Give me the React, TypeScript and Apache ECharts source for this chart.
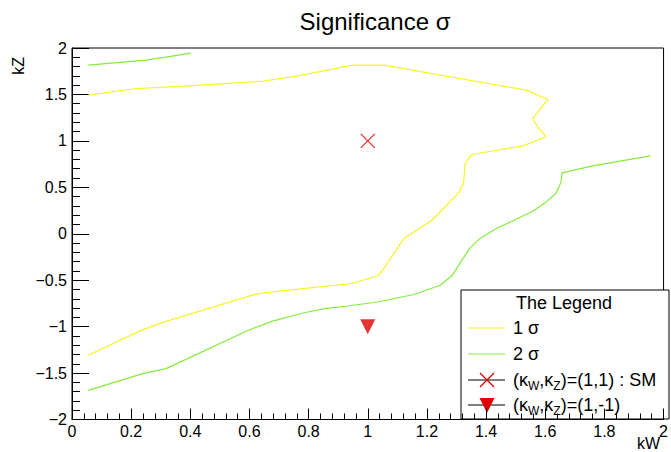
import React, { useEffect, useRef } from "react";
import * as echarts from "echarts";

const TITLE = "Significance σ";
const X_NAME = "kW";
const Y_NAME = "kZ";

// 1 sigma contour (kW, kZ)
const sigma1: [number, number][] = [
  [0.055, -1.309], [0.234, -1.04], [0.318, -0.943], [0.619, -0.652], [0.653, -0.634],
  [0.943, -0.537], [1.033, -0.455], [1.05, -0.393], [1.122, -0.052], [1.217, 0.145],
  [1.31, 0.45], [1.324, 0.547], [1.329, 0.756], [1.351, 0.853], [1.525, 0.946],
  [1.603, 1.045], [1.575, 1.144], [1.558, 1.241], [1.609, 1.446], [1.536, 1.546],
  [1.055, 1.816], [0.949, 1.816], [0.76, 1.698], [0.648, 1.643], [0.379, 1.589],
  [0.211, 1.561], [0.055, 1.492],
];

// 2 sigma contour, main branch
const sigma2: [number, number][] = [
  [0.055, -1.686], [0.239, -1.506], [0.318, -1.452], [0.591, -1.047], [0.675, -0.943],
  [0.781, -0.853], [0.854, -0.806], [0.932, -0.778], [1.033, -0.735], [1.156, -0.654],
  [1.245, -0.555], [1.284, -0.453], [1.346, -0.149], [1.379, -0.052], [1.435, 0.056],
  [1.558, 0.242], [1.603, 0.343], [1.636, 0.433], [1.653, 0.552], [1.657, 0.655],
  [1.76, 0.731], [1.955, 0.838],
];

// 2 sigma contour, top-left branch
const sigma2Top: [number, number][] = [
  [0.055, 1.816], [0.25, 1.87], [0.312, 1.899], [0.402, 1.945],
];

const smPoint: [number, number][] = [[1, 1]];
const flipPoint: [number, number][] = [[1, -1]];

const LEGEND_TITLE = "The Legend";
const LEGEND_1 = "1 σ";
const LEGEND_2 = "2 σ";

const YELLOW = "#f6f626";
const GREEN = "#84ec3e";
const RED = "#e00000";

const fmt = (v: number) => String(+v.toFixed(1)).replace("-", "−");

export default function App() {
  const ref = useRef<HTMLDivElement>(null);
  useEffect(() => {
    if (!ref.current) return;
    const chart = echarts.init(ref.current, null, { renderer: "svg" });
    const font = "Liberation Sans, Arial, Helvetica, sans-serif";
    const lx0 = 468, lx1 = 505, tx = 513;
    const rows = [328, 354, 380, 405];
    const richStyles = {
      n: { fontSize: 18, fontFamily: font, color: "#000" },
      s: { fontSize: 12, fontFamily: font, color: "#000", padding: [11, 0, 0, 0] },
    };
    chart.setOption({
      animation: false,
      backgroundColor: "#fff",
      title: {
        text: TITLE,
        left: 370,
        top: 4,
        textAlign: "center",
        textStyle: { fontSize: 24, fontWeight: "normal", fontFamily: font, color: "#000" },
      },
      grid: {
        left: 72, right: 1, top: 48, bottom: 32.5,
        show: true, borderColor: "#000", borderWidth: 1, backgroundColor: "transparent",
      },
      xAxis: {
        type: "value", min: 0, max: 2, interval: 0.2,
        axisLine: { show: true, onZero: false, lineStyle: { color: "#000", width: 1 } },
        axisTick: { show: true, inside: true, length: 11, lineStyle: { color: "#000" } },
        minorTick: { show: true, splitNumber: 5, length: 6, lineStyle: { color: "#000" } },
        splitLine: { show: false },
        axisLabel: { formatter: fmt, fontSize: 16, fontFamily: font, color: "#000", margin: 4 },
      },
      yAxis: {
        type: "value", min: -2, max: 2, interval: 0.5,
        axisLine: { show: true, onZero: false, lineStyle: { color: "#000", width: 1 } },
        axisTick: { show: true, inside: true, length: 17, lineStyle: { color: "#000" } },
        minorTick: { show: true, splitNumber: 5, length: 8, lineStyle: { color: "#000" } },
        splitLine: { show: false },
        axisLabel: { formatter: fmt, fontSize: 16, fontFamily: font, color: "#000", margin: 5 },
      },
      series: [
        { type: "line", data: sigma1, showSymbol: false, lineStyle: { color: YELLOW, width: 1.2 }, silent: true },
        { type: "line", data: sigma2, showSymbol: false, lineStyle: { color: GREEN, width: 1.2 }, silent: true },
        { type: "line", data: sigma2Top, showSymbol: false, lineStyle: { color: GREEN, width: 1.2 }, silent: true },
        {
          type: "scatter", data: smPoint, symbol: "path://M0,0L10,10M10,0L0,10", symbolSize: 14,
          itemStyle: { color: "transparent", borderColor: RED, borderWidth: 1.3 },
        },
        {
          type: "scatter", data: flipPoint, symbol: "triangle", symbolRotate: 180, symbolSize: 15,
          itemStyle: { color: RED },
        },
      ],
      graphic: [
        {
          type: "text", x: 660, y: 443,
          style: { text: X_NAME, fontSize: 16, fontFamily: font, fill: "#000", align: "right", verticalAlign: "middle" },
        },
        {
          type: "text", x: 18, y: 57, rotation: Math.PI / 2,
          style: { text: Y_NAME, fontSize: 16, fontFamily: font, fill: "#000", align: "right", verticalAlign: "middle" },
        },
        {
          type: "group", z: 100,
          children: [
            { type: "rect", shape: { x: 461, y: 290, width: 208, height: 129 }, style: { fill: "#fff", stroke: "#000", lineWidth: 1 } },
            { type: "text", x: 564, y: 303, style: { text: LEGEND_TITLE, fontSize: 18, fontFamily: font, fill: "#000", align: "center", verticalAlign: "middle" } },
            { type: "line", shape: { x1: lx0, y1: rows[0], x2: lx1, y2: rows[0] }, style: { stroke: YELLOW, lineWidth: 1.2 } },
            { type: "text", x: tx, y: rows[0], style: { text: LEGEND_1, fontSize: 18, fontFamily: font, fill: "#000", align: "left", verticalAlign: "middle" } },
            { type: "line", shape: { x1: lx0, y1: rows[1], x2: lx1, y2: rows[1] }, style: { stroke: GREEN, lineWidth: 1.2 } },
            { type: "text", x: tx, y: rows[1], style: { text: LEGEND_2, fontSize: 18, fontFamily: font, fill: "#000", align: "left", verticalAlign: "middle" } },
            { type: "line", shape: { x1: lx0, y1: rows[2], x2: lx1, y2: rows[2] }, style: { stroke: "#000", lineWidth: 1 } },
            { type: "line", shape: { x1: 480, y1: rows[2] - 7, x2: 494, y2: rows[2] + 7 }, style: { stroke: RED, lineWidth: 1.3 } },
            { type: "line", shape: { x1: 494, y1: rows[2] - 7, x2: 480, y2: rows[2] + 7 }, style: { stroke: RED, lineWidth: 1.3 } },
            {
              type: "text", x: tx, y: rows[2],
              style: { text: "{n|(κ}{s|W}{n|,κ}{s|Z}{n|)=(1,1) : SM}", rich: richStyles, align: "left", verticalAlign: "middle" },
            },
            { type: "line", shape: { x1: lx0, y1: rows[3], x2: lx1, y2: rows[3] }, style: { stroke: "#000", lineWidth: 1 } },
            { type: "polygon", shape: { points: [[479.5, rows[3] - 7], [494.5, rows[3] - 7], [487, rows[3] + 8]] }, style: { fill: RED } },
            {
              type: "text", x: tx, y: rows[3],
              style: { text: "{n|(κ}{s|W}{n|,κ}{s|Z}{n|)=(1,-1)}", rich: richStyles, align: "left", verticalAlign: "middle" },
            },
          ],
        },
      ],
    });
    return () => chart.dispose();
  }, []);
  return <div ref={ref} style={{ position: "fixed", left: 0, top: 0, width: 671, height: 452 }} />;
}
